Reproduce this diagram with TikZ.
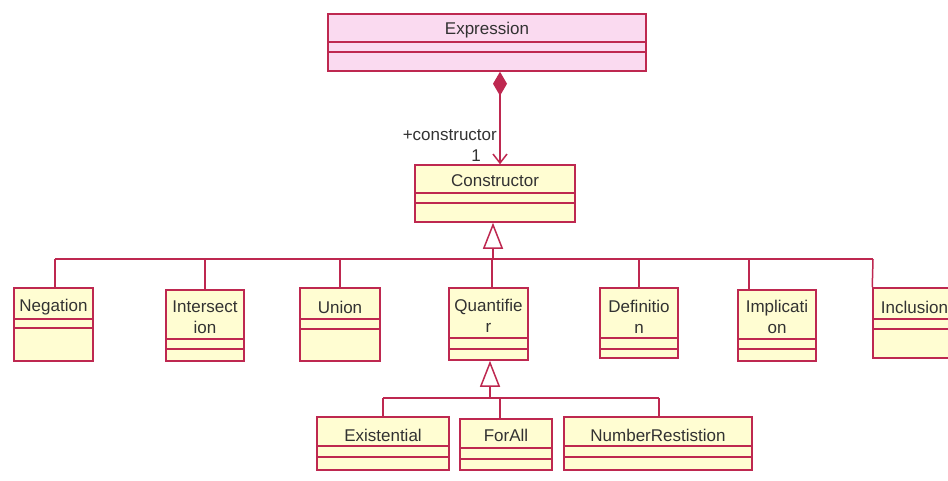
\documentclass[tikz,border=0pt]{standalone}
\usepackage{fontspec}
\setmainfont{Liberation Sans}
\usetikzlibrary{arrows.meta,fit}
\definecolor{umlline}{RGB}{190,40,80}
\definecolor{umlfill}{RGB}{255,253,210}
\definecolor{umlpink}{RGB}{250,218,240}
\definecolor{umltext}{RGB}{50,50,50}
\tikzset{
  box/.style={draw=umlline, line width=1.5pt, fill=umlfill, inner sep=0pt},
  pinkbox/.style={box, fill=umlpink},
  divider/.style={draw=umlline, line width=1.5pt},
  lbl/.style={text=umltext, font=\fontsize{17}{21}\selectfont, inner sep=0pt, align=center},
  link/.style={draw=umlline, line width=1.5pt},
  gen/.style={link, -{Triangle[open, length=26pt, width=20pt, fill=white]}},
  comp/.style={link, {Diamond[length=24pt, width=14pt, fill=umlline]}-{Straight Barb[length=9pt, width=14pt]}},
}
\def\clsstyle{box}
% #1 name, #2 x1, #3 y1, #4 x2, #5 y2, #6 divider 1, #7 divider 2, #8 text, #9 text y
\newcommand\umlcls[9]{%
  \node[\clsstyle, fit={(#2,#3)(#4,#5)}] (#1) {};
  \draw[divider] (#1.west |- 0,#6) -- (#1.east |- 0,#6);
  \draw[divider] (#1.west |- 0,#7) -- (#1.east |- 0,#7);
  \node[lbl] (#1-t) at ({(#2+#4)/2},#9) {#8};
}
\begin{document}
\begin{tikzpicture}[x=1pt,y=-1pt]
\useasboundingbox (0,0) rectangle (948,480);
\clip (0,0) rectangle (948,480);
\fill[white] (0,0) rectangle (948,480);

% classes
\def\clsstyle{pinkbox}
\umlcls{expr}{328}{14}{646}{71}{42}{52}{Expression}{30}
\def\clsstyle{box}
\umlcls{cons}{415}{165}{575}{222}{193}{203}{Constructor}{181}

\umlcls{neg}{14}{288}{93}{361}{319}{328}{Negation}{307}
\umlcls{int}{166}{290}{244}{361}{339}{349}{Intersect\\ion}{317}
\umlcls{uni}{300}{288}{380}{361}{319}{329}{Union}{307}
\umlcls{qua}{449}{288}{528}{360}{338}{349}{Quantifie\\r}{316}
\umlcls{def}{600}{288}{678}{358}{338}{349}{Definitio\\n}{317}
\umlcls{imp}{738}{290}{816}{361}{339}{349}{Implicati\\on}{317}
\umlcls{inc}{873}{288}{956}{358}{319}{329}{Inclusion}{307}

\umlcls{ex}{317}{417}{449}{470}{446}{457}{Existential}{435}
\umlcls{fa}{460}{419}{552}{470}{448}{459}{ForAll}{435}
\umlcls{nr}{564}{417}{752}{470}{446}{457}{NumberRestistion}{435}

% composition
\coordinate (cx) at (500,0);
\draw[comp] (expr.south -| cx) -- (cons.north -| cx);
\node[lbl, anchor=east] (role) at (497,135) {+constructor};
\node[lbl] (mult) at (476,156) {1};

% first generalization
\coordinate (busL) at (55,259);
\coordinate (busR) at (873,259);
\coordinate (busM) at (493,259);
\coordinate (intc) at (205,259);
\coordinate (impc) at (749,259);
\coordinate (quac) at (492,259);
\draw[link] (busL) -- (busR);
\draw[gen] (busM) -- (cons.south -| busM);
\draw[link] (busL) -- (neg.north -| busL);
\draw[link] (intc) -- (int.north -| intc);
\draw[link] (uni.north |- busL) -- (uni.north);
\draw[link] (quac) -- (qua.north -| quac);
\draw[link] (def.north |- busL) -- (def.north);
\draw[link] (impc) -- (imp.north -| impc);
\draw[link] (busR) -- (inc.north west);

% second generalization
\coordinate (bus2L) at (383,398);
\coordinate (bus2R) at (659,398);
\coordinate (bus2M) at (490,398);
\coordinate (fac) at (500,398);
\draw[link] (bus2L) -- (bus2R);
\draw[gen] (bus2M) -- (qua.south -| bus2M);
\draw[link] (bus2L) -- (ex.north -| bus2L);
\draw[link] (fac) -- (fa.north -| fac);
\draw[link] (bus2R) -- (nr.north -| bus2R);
\end{tikzpicture}
\end{document}
